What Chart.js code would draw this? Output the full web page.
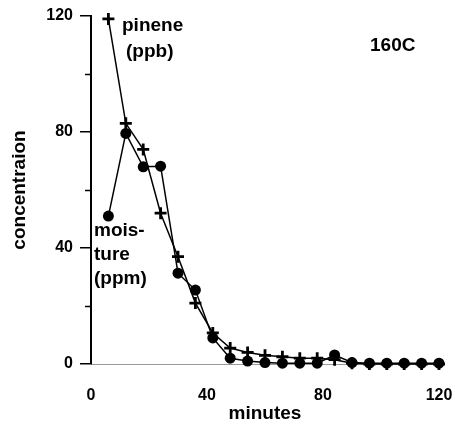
<!DOCTYPE html>
<html>
<head>
<meta charset="utf-8">
<script src="https://cdn.jsdelivr.net/npm/chart.js@4"></script>
<style>
  html, body { margin: 0; padding: 0; background: #ffffff; }
  #wrap { width: 455px; height: 431px; }
</style>
</head>
<body>
<div id="wrap"><canvas id="chart" width="455" height="431"></canvas></div>
<script>
// sample times (minutes)
var minutes = [6, 12, 18, 24, 30, 36, 42, 48, 54, 60, 66, 72, 78, 84, 90, 96, 102, 108, 114, 120];
// pinene (ppb), cross markers
var pinene = [119, 83, 74, 52, 37, 21, 10.7, 5.5, 4, 3, 2.5, 2, 2, 1.5, 0.3, 0, 0, 0, 0, 0];
// moisture (ppm), filled circles
var moisture = [51, 79.5, 68, 68.2, 31.3, 25.5, 9, 2, 1, 0.5, 0.3, 0.3, 0.3, 3.1, 0.5, 0.3, 0.3, 0.3, 0.3, 0.3];
// axis ticks
var yTicks = [0, 40, 80, 120];
var yMinorTicks = [20, 60, 100];
var xTicks = [0, 40, 80, 120];

var FONT = "'Liberation Sans', Arial, Helvetica, sans-serif";

function toPoints(xs, ys){
    var pts = [];
    for(var i = 0; i < xs.length; i++){
        pts.push({x: xs[i], y: ys[i]});
    }
    return pts;
}

//minor ticks on the y axis and the text labels inside the plot
var extras = {
    id: 'extras',
    afterDraw: function(chart){
        var ctx = chart.ctx;
        var ys = chart.scales.y;
        ctx.save();
        ctx.strokeStyle = '#000';
        ctx.lineWidth = 1.5;
        for(var i = 0; i < yMinorTicks.length; i++){
            var py = Math.round(ys.getPixelForValue(yMinorTicks[i])) + 0.5;
            ctx.beginPath();
            ctx.moveTo(ys.right - 6, py);
            ctx.lineTo(ys.right, py);
            ctx.stroke();
        }
        ctx.fillStyle = '#000';
        ctx.font = 'bold 19px ' + FONT;
        ctx.textBaseline = 'middle';
        ctx.textAlign = 'left';
        ctx.fillText('pinene', 122, 26);
        ctx.fillText('(ppb)', 126, 52);
        ctx.fillText('mois-', 94, 231);
        ctx.fillText('ture', 94, 255);
        ctx.fillText('(ppm)', 94, 279);
        ctx.fillText('160C', 370, 46);
        ctx.restore();
    }
};

var ctx = document.getElementById('chart');
var graph = new Chart(ctx, {
    type: 'line',
    data: {
        datasets: [{
            label: 'moisture',
            data: toPoints(minutes, moisture),
            borderColor: '#000',
            backgroundColor: '#000',
            borderWidth: 1.5,
            pointStyle: 'circle',
            pointRadius: 5.5,
            pointBorderWidth: 0,
            clip: false,
            order: 0
        }, {
            label: 'pinene',
            data: toPoints(minutes, pinene),
            borderColor: '#000',
            backgroundColor: '#000',
            borderWidth: 1.5,
            pointStyle: 'cross',
            pointRadius: 6,
            pointBorderWidth: 2.8,
            clip: false,
            order: 1
        }]
    },
    plugins: [extras],
    options: {
        responsive: false,
        animation: false,
        devicePixelRatio: 1,
        layout: { padding: { left: 0, right: 16, top: 16, bottom: 0 } },
        plugins: {
            legend: { display: false },
            tooltip: { enabled: false }
        },
        scales: {
            x: {
                type: 'linear',
                min: 0,
                max: 120,
                afterBuildTicks: function(s){
                    s.ticks = xTicks.map(function(v){ return {value: v}; });
                },
                afterFit: function(s){
                    s.height = 67;
                    s.paddingLeft = 0;
                    s.paddingRight = 0;
                },
                border: { display: true, color: '#999', width: 1, dash: [2, 2] },
                grid: { display: false, drawTicks: false },
                ticks: {
                    color: '#000',
                    padding: 22,
                    maxRotation: 0,
                    font: { family: FONT, size: 16, weight: 'bold' }
                },
                title: {
                    display: true,
                    text: 'minutes',
                    color: '#000',
                    padding: { top: 6, bottom: 6 },
                    font: { family: FONT, size: 19, weight: 'bold' }
                }
            },
            y: {
                min: 0,
                max: 120,
                afterBuildTicks: function(s){
                    s.ticks = yTicks.map(function(v){ return {value: v}; });
                },
                afterFit: function(s){
                    s.width = 91;
                    s.paddingTop = 0;
                    s.paddingBottom = 0;
                },
                border: { display: true, color: '#000', width: 2 },
                grid: {
                    drawOnChartArea: false,
                    drawTicks: true,
                    tickLength: 11,
                    color: '#000',
                    lineWidth: 1.5
                },
                ticks: {
                    color: '#000',
                    padding: 7,
                    font: { family: FONT, size: 16, weight: 'bold' }
                },
                title: {
                    display: true,
                    text: 'concentraion',
                    color: '#000',
                    padding: { top: 8, bottom: 0 },
                    font: { family: FONT, size: 19, weight: 'bold' }
                }
            }
        }
    }
});
</script>
</body>
</html>
